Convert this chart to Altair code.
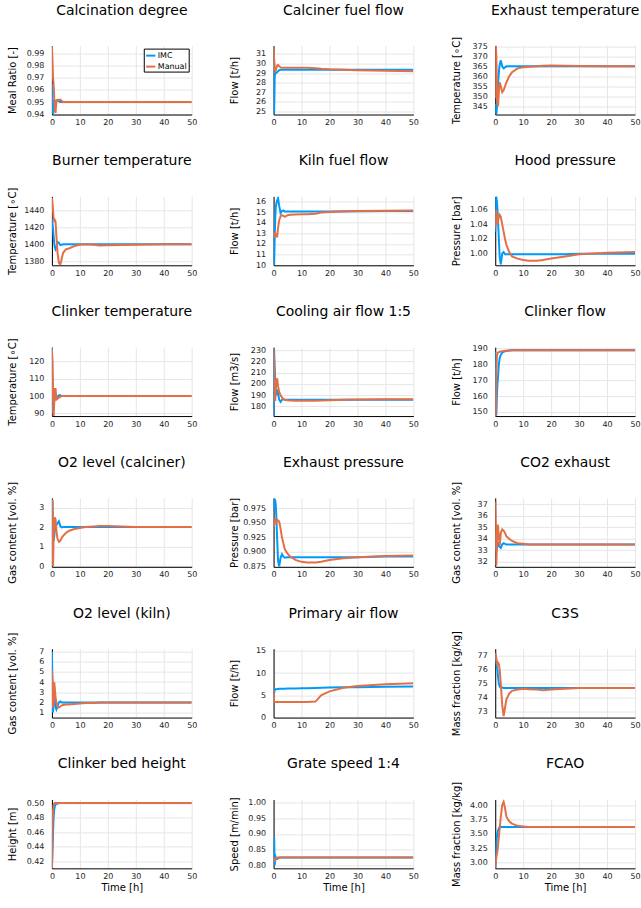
import altair as alt
import pandas as pd

SERIES = ["IMC", "Manual"]
COLORS = ["#009AFA", "#E36F47"]
XTICKS = [0, 10, 20, 30, 40, 50]

T = [0, 0.2, 0.4, 0.6, 0.8, 1.0, 1.3, 1.6, 2.0, 2.5, 3.0, 3.5, 4.0, 5.0, 6.0, 8.0, 10, 12, 15, 17, 20, 25, 30, 40, 50]

calc_imc = [0.965, 0.945, 0.940, 0.948, 0.951, 0.951, 0.951, 0.9512, 0.9512, 0.9505, 0.950, 0.950, 0.950, 0.950, 0.950, 0.950, 0.950, 0.950, 0.950, 0.950, 0.950, 0.950, 0.950, 0.950, 0.950]
calc_man = [0.996, 0.985, 0.970, 0.965, 0.955, 0.944, 0.941, 0.951, 0.952, 0.9515, 0.952, 0.951, 0.950, 0.950, 0.950, 0.950, 0.950, 0.950, 0.950, 0.950, 0.950, 0.950, 0.950, 0.950, 0.950]

cfuel_imc = [29.3, 24.8, 28.5, 29.1, 29.0, 29.0, 29.1, 29.2, 29.3, 29.35, 29.35, 29.35, 29.35, 29.35, 29.35, 29.35, 29.35, 29.35, 29.35, 29.35, 29.35, 29.35, 29.35, 29.35, 29.35]
cfuel_man = [31.7, 30.5, 29.6, 29.2, 29.3, 29.5, 29.8, 29.85, 29.7, 29.6, 29.55, 29.55, 29.55, 29.55, 29.55, 29.55, 29.55, 29.55, 29.5, 29.45, 29.4, 29.35, 29.3, 29.25, 29.2]

exh_imc = [346, 342, 341, 344, 350, 356, 362, 366, 368, 365, 364, 364.5, 365, 365, 365, 365, 365, 365, 365, 365, 365, 365, 365, 365, 365]
exh_man = [349, 376, 370, 355, 346, 345, 352, 357, 355, 352, 353, 355, 357, 360, 362, 364, 364.5, 364.8, 365.0, 365.3, 365.4, 365.3, 365.2, 365.1, 365.1]

burn_imc = [1430, 1425, 1418, 1410, 1402, 1397, 1394, 1396, 1403, 1402, 1399, 1399.5, 1400, 1400, 1400, 1400, 1400, 1400, 1400, 1400, 1400, 1400, 1400, 1400, 1400]
burn_man = [1455, 1450, 1440, 1430, 1428, 1429, 1427, 1410, 1390, 1378, 1376, 1383, 1390, 1394, 1395, 1398, 1399.5, 1400, 1399.5, 1398.5, 1398.8, 1399.2, 1399.5, 1400, 1400]

kfuel_imc = [12.6, 10.0, 12.5, 14.5, 15.5, 15.8, 16.1, 16.3, 15.6, 14.9, 15.1, 15.15, 15.05, 15.05, 15.05, 15.05, 15.05, 15.05, 15.05, 15.05, 15.05, 15.07, 15.08, 15.09, 15.1]
kfuel_man = [12.6, 12.7, 12.9, 13.0, 12.9, 12.7, 12.7, 13.5, 14.2, 14.6, 14.7, 14.65, 14.55, 14.7, 14.75, 14.78, 14.8, 14.8, 14.85, 14.95, 15.0, 15.05, 15.1, 15.12, 15.15]

hood_imc = [1.03, 1.075, 1.077, 1.072, 1.06, 1.045, 1.02, 0.995, 0.985, 1.000, 1.002, 0.999, 0.999, 0.999, 0.999, 0.999, 0.999, 0.999, 0.999, 0.999, 0.999, 0.999, 0.9995, 0.9995, 0.9995]
hood_man = [1.035, 1.05, 1.06, 1.05, 1.04, 1.045, 1.05, 1.053, 1.05, 1.04, 1.03, 1.02, 1.012, 1.002, 0.996, 0.993, 0.991, 0.990, 0.990, 0.991, 0.993, 0.996, 0.999, 1.001, 1.002]

ctemp_imc = [128, 110, 90, 95, 101, 103, 100, 99.5, 99.5, 100.5, 100.5, 100, 100, 100, 100, 100, 100, 100, 100, 100, 100, 100, 100, 100, 100]
ctemp_man = [127, 120, 100, 88, 95, 104, 104, 98, 98.5, 99, 99.5, 100, 100, 100, 100, 100, 100, 100, 100, 100, 100, 100, 100, 100, 100]

cool_imc = [172, 230, 215, 200, 192, 190, 195, 192, 186, 184, 186, 186.5, 186, 186, 186, 186, 186, 186, 186, 186, 186, 186, 186, 186, 186]
cool_man = [231, 220, 190, 185, 195, 203, 205, 198, 193, 190, 188, 186.5, 186, 185.5, 185.2, 185, 185, 185, 185, 185.2, 185.5, 185.9, 186.2, 186.5, 186.5]

cflow_imc = [188, 150, 148, 160, 168, 172, 180, 184, 186, 187.5, 188, 188.3, 188.5, 188.8, 189, 189, 189, 189, 189, 189, 189, 189, 189, 189, 189]
cflow_man = [147, 147, 175, 185, 187, 187.5, 187.8, 188, 188.2, 188.4, 188.5, 188.6, 188.7, 188.8, 188.9, 189, 189, 189, 189, 189, 189, 189, 189, 189, 189]

o2c_imc = [0.0, 3.4, 2.0, 1.3, 1.5, 1.8, 2.0, 2.1, 2.2, 2.3, 2.05, 1.98, 2.0, 2.0, 2.0, 2.0, 2.0, 2.0, 2.0, 2.0, 2.0, 2.0, 2.0, 2.0, 2.0]
o2c_man = [3.4, 3.3, 0.0, 1.5, 2.2, 2.5, 2.4, 1.8, 1.4, 1.25, 1.3, 1.45, 1.55, 1.7, 1.8, 1.9, 1.95, 2.0, 2.03, 2.05, 2.05, 2.03, 2.0, 2.0, 2.0]

exp_imc = [0.97, 0.99, 0.99, 0.988, 0.98, 0.96, 0.92, 0.885, 0.875, 0.89, 0.896, 0.892, 0.890, 0.891, 0.891, 0.891, 0.891, 0.891, 0.891, 0.891, 0.891, 0.891, 0.891, 0.892, 0.892]
exp_man = [0.943, 0.945, 0.95, 0.955, 0.953, 0.951, 0.955, 0.954, 0.952, 0.94, 0.925, 0.915, 0.905, 0.897, 0.892, 0.886, 0.883, 0.882, 0.882, 0.883, 0.886, 0.889, 0.891, 0.893, 0.894]

co2_imc = [33.5, 33.0, 34.5, 33.0, 33.5, 33.7, 33.4, 33.3, 33.2, 33.5, 33.6, 33.55, 33.5, 33.5, 33.5, 33.5, 33.5, 33.5, 33.5, 33.5, 33.5, 33.5, 33.5, 33.5, 33.5]
co2_man = [37.2, 35.0, 31.7, 33.5, 35.2, 35.1, 34.2, 33.4, 34.5, 34.8, 34.7, 34.5, 34.2, 34.0, 33.8, 33.6, 33.55, 33.5, 33.5, 33.5, 33.5, 33.5, 33.5, 33.5, 33.5]

o2k_imc = [7.0, 4.0, 1.0, 2.5, 3.0, 2.5, 1.5, 1.3, 1.6, 2.0, 2.1, 2.0, 2.0, 2.0, 2.0, 2.0, 2.0, 2.0, 2.0, 2.0, 2.0, 2.0, 2.0, 2.0, 2.0]
o2k_man = [5.2, 4.0, 1.5, 2.0, 4.0, 3.5, 2.5, 2.0, 1.6, 1.5, 1.6, 1.7, 1.75, 1.8, 1.8, 1.85, 1.9, 1.95, 1.95, 2.0, 2.0, 2.0, 2.0, 2.0, 2.0]

pair_imc = [6.0, 5.5, 6.2, 6.4, 6.4, 6.4, 6.45, 6.45, 6.5, 6.5, 6.5, 6.5, 6.5, 6.52, 6.54, 6.57, 6.6, 6.62, 6.66, 6.7, 6.75, 6.8, 6.85, 6.95, 7.0]
pair_man = [6.0, 3.5, 3.5, 3.5, 3.5, 3.5, 3.5, 3.5, 3.5, 3.5, 3.5, 3.5, 3.5, 3.5, 3.5, 3.5, 3.5, 3.5, 3.6, 5.0, 5.9, 6.7, 7.1, 7.5, 7.7]

c3s_imc = [77.0, 76.8, 76.5, 76.2, 76.0, 75.5, 75.0, 74.8, 74.7, 74.75, 74.7, 74.7, 74.7, 74.7, 74.7, 74.7, 74.7, 74.7, 74.7, 74.7, 74.7, 74.7, 74.7, 74.7, 74.7]
c3s_man = [77.2, 77.0, 76.8, 76.5, 76.3, 76.5, 76.4, 76.0, 75.0, 73.5, 72.7, 73.3, 73.9, 74.3, 74.5, 74.6, 74.65, 74.62, 74.6, 74.55, 74.6, 74.65, 74.7, 74.7, 74.7]

bed_imc = [0.41, 0.43, 0.46, 0.48, 0.49, 0.495, 0.498, 0.499, 0.4995, 0.5, 0.5, 0.5, 0.5, 0.5, 0.5, 0.5, 0.5, 0.5, 0.5, 0.5, 0.5, 0.5, 0.5, 0.5, 0.5]
bed_man = [0.41, 0.47, 0.49, 0.497, 0.499, 0.5, 0.5, 0.5, 0.5, 0.5, 0.5, 0.5, 0.5, 0.5, 0.5, 0.5, 0.5, 0.5, 0.5, 0.5, 0.5, 0.5, 0.5, 0.5, 0.5]

grate_imc = [0.83, 0.89, 0.80, 0.815, 0.825, 0.82, 0.82, 0.822, 0.824, 0.825, 0.825, 0.825, 0.825, 0.825, 0.825, 0.825, 0.825, 0.825, 0.825, 0.825, 0.825, 0.825, 0.825, 0.825, 0.825]
grate_man = [0.825, 0.82, 0.815, 0.818, 0.82, 0.822, 0.824, 0.825, 0.825, 0.825, 0.825, 0.825, 0.825, 0.825, 0.825, 0.825, 0.825, 0.825, 0.825, 0.825, 0.825, 0.825, 0.825, 0.825, 0.825]

fcao_imc = [2.9, 3.1, 3.3, 3.45, 3.52, 3.56, 3.6, 3.62, 3.62, 3.62, 3.62, 3.62, 3.62, 3.62, 3.62, 3.62, 3.62, 3.62, 3.62, 3.62, 3.62, 3.62, 3.62, 3.62, 3.62]
fcao_man = [2.9, 3.0, 3.1, 3.15, 3.2, 3.3, 3.45, 3.6, 3.8, 4.0, 4.06, 3.95, 3.8, 3.72, 3.68, 3.64, 3.63, 3.62, 3.62, 3.62, 3.62, 3.62, 3.62, 3.62, 3.62]

# (title, y title, imc, manual, y domain, y ticks, format)
PANELS = [
    ("Calcination degree", "Meal Ratio [-]", calc_imc, calc_man, [0.9397, 0.9966], [0.94, 0.95, 0.96, 0.97, 0.98, 0.99], ".2f"),
    ("Calciner fuel flow", "Flow [t/h]", cfuel_imc, cfuel_man, [24.69, 31.86], [25, 26, 27, 28, 29, 30, 31], "d"),
    ("Exhaust temperature", "Temperature [∘C]", exh_imc, exh_man, [340.8, 375.4], [345, 350, 355, 360, 365, 370, 375], "d"),
    ("Burner temperature", "Temperature [∘C]", burn_imc, burn_man, [1375.2, 1456.7], [1380, 1400, 1420, 1440], "d"),
    ("Kiln fuel flow", "Flow [t/h]", kfuel_imc, kfuel_man, [10.0, 16.47], [10, 11, 12, 13, 14, 15, 16], "d"),
    ("Hood pressure", "Pressure [bar]", hood_imc, hood_man, [0.9838, 1.0785], [1.00, 1.02, 1.04, 1.06], ".2f"),
    ("Clinker temperature", "Temperature [∘C]", ctemp_imc, ctemp_man, [88.4, 128.3], [90, 100, 110, 120], "d"),
    ("Cooling air flow 1:5", "Flow [m3/s]", cool_imc, cool_man, [171.5, 232.7], [180, 190, 200, 210, 220, 230], "d"),
    ("Clinker flow", "Flow [t/h]", cflow_imc, cflow_man, [147.4, 190.9], [150, 160, 170, 180, 190], "d"),
    ("O2 level (calciner)", "Gas content [vol. %]", o2c_imc, o2c_man, [-0.03, 3.49], [0, 1, 2, 3], "d"),
    ("Exhaust pressure", "Pressure [bar]", exp_imc, exp_man, [0.8745, 0.9925], [0.875, 0.9, 0.925, 0.95, 0.975], ".3f"),
    ("CO2 exhaust", "Gas content [vol. %]", co2_imc, co2_man, [31.56, 37.53], [32, 33, 34, 35, 36, 37], "d"),
    ("O2 level (kiln)", "Gas content [vol. %]", o2k_imc, o2k_man, [0.5, 7.3], [1, 2, 3, 4, 5, 6, 7], "d"),
    ("Primary air flow", "Flow [t/h]", pair_imc, pair_man, [0, 15.5], [0, 5, 10, 15], "d"),
    ("C3S", "Mass fraction [kg/kg]", c3s_imc, c3s_man, [72.6, 77.5], [73, 74, 75, 76, 77], "d"),
    ("Clinker bed height", "Height [m]", bed_imc, bed_man, [0.41, 0.505], [0.42, 0.44, 0.46, 0.48, 0.50], ".2f"),
    ("Grate speed 1:4", "Speed [m/min]", grate_imc, grate_man, [0.79, 1.01], [0.80, 0.85, 0.90, 0.95, 1.00], ".2f"),
    ("FCAO", "Mass fraction [kg/kg]", fcao_imc, fcao_man, [2.9, 4.1], [3.00, 3.25, 3.50, 3.75, 4.00], ".2f"),
]

FONT = "DejaVu Sans"
PW, PH = 140, 69


def make_panel(i, title, ytitle, imc, man, ydom, yticks, yfmt):
    assert len(imc) == len(T) and len(man) == len(T), title
    df = pd.DataFrame({
        "t": T + T,
        "v": imc + man,
        "s": [SERIES[0]] * len(T) + [SERIES[1]] * len(T),
    })
    if i == 0:
        leg = alt.Legend(orient="top-right", title=None, strokeColor="#000",
                         fillColor="#fff", padding=1, offset=3,
                         symbolType="stroke", symbolSize=85, symbolStrokeWidth=2,
                         labelFontSize=8, labelFont=FONT, labelOffset=1,
                         rowPadding=1, labelColor="#000")
        color = alt.Color("s:N", scale=alt.Scale(domain=SERIES, range=COLORS), legend=leg)
    else:
        color = alt.Color("s:N", scale=alt.Scale(domain=SERIES, range=COLORS), legend=None)
    xaxis = alt.Axis(values=XTICKS, format="d", labelFlush=False, labelOverlap=False,
                     title="Time [h]" if i >= 15 else None)
    yaxis = alt.Axis(values=yticks, format=yfmt, title=ytitle, labelOverlap=False,
                     titleX=-39, titleY=PH / 2, titleBaseline="middle", titleAlign="center",
                     titleAngle=270)
    lines = alt.Chart(df).mark_line(strokeWidth=2, clip=True).encode(
        x=alt.X("t:Q", scale=alt.Scale(domain=[0, 50], nice=False, zero=False), axis=xaxis),
        y=alt.Y("v:Q", scale=alt.Scale(domain=ydom, nice=False, zero=False), axis=yaxis),
        color=color,
    )
    head = alt.Chart(pd.DataFrame({"title": [title]})).mark_text(
        fontSize=14, font=FONT, color="#000", align="center", baseline="alphabetic"
    ).encode(
        text="title:N",
        x=alt.value(PW / 2),
        y=alt.value(-31),
    )
    return alt.layer(lines, head).properties(width=PW, height=PH)


panels = [make_panel(i, *p) for i, p in enumerate(PANELS)]

chart = alt.concat(
    *panels, columns=3, spacing={"row": 82, "column": 82}, bounds="flush"
).resolve_scale(color="independent").resolve_legend(color="independent").properties(
    padding={"left": 8, "top": 3, "right": 0, "bottom": 2}
).configure(font=FONT).configure_view(stroke=None).configure_axis(
    labelFont=FONT, labelFontSize=8, labelColor="#222",
    titleFont=FONT, titleFontSize=10, titleFontWeight="normal", titleColor="#000",
    domainColor="#000", domainWidth=1, ticks=False,
    gridColor="#e6e6e6", gridWidth=1,
).configure_axisX(labelPadding=4, titlePadding=2).configure_axisY(labelPadding=8)

chart.save("out.html", embed_options={"renderer": "svg", "actions": False})
